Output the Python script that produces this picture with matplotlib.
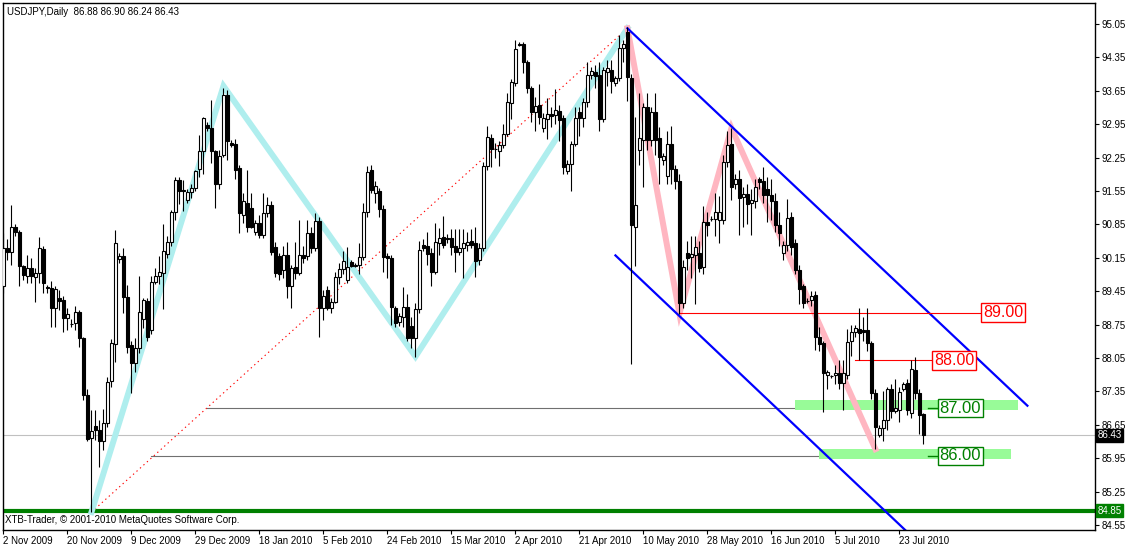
import numpy as np
import matplotlib
matplotlib.use("Agg")
import matplotlib.pyplot as plt
from matplotlib.transforms import blended_transform_factory

plt.rcParams['font.family'] = ['Liberation Sans', 'DejaVu Sans']

# USDJPY daily bars, 2 Nov 2009 .. 30 Jul 2010 (broker sends Sunday bars too)
opens = [89.55, 90.35, 90.28, 90.79, 90.69, 89.97, 89.76, 89.93, 89.74, 89.83,
         90.33, 89.53, 89.51, 89.09, 89.30, 89.27, 88.88, 88.76, 88.78, 89.01,
         88.46, 87.27, 86.37, 86.63, 86.55, 86.30, 86.68, 87.57, 88.34, 90.13,
         90.19, 89.32, 88.32, 87.95, 88.26, 88.86, 89.25, 88.64, 89.65, 89.76,
         89.83, 90.22, 90.49, 91.12, 91.78, 91.57, 91.36, 91.52, 91.61, 92.02,
         92.38, 92.94, 92.87, 92.38, 91.69, 92.31, 93.56, 92.55, 92.54, 92.03,
         91.05, 91.29, 91.19, 90.70, 90.87, 90.63, 91.08, 91.26, 90.38, 90.19,
         89.90, 90.21, 89.56, 89.95, 89.84, 90.21, 90.18, 90.67, 90.35, 90.93,
         89.09, 89.48, 89.09, 89.23, 89.75, 89.91, 89.69, 90.06, 89.98, 90.00,
         90.16, 91.12, 91.98, 91.50, 91.55, 91.17, 90.19, 90.14, 89.09, 88.81,
         88.90, 89.11, 88.73, 88.46, 89.07, 90.42, 90.40, 90.26, 89.86, 90.47,
         90.58, 90.56, 90.56, 90.40, 90.28, 90.35, 90.41, 90.50, 90.46, 90.10,
         90.35, 92.08, 92.67, 92.43, 92.38, 92.52, 92.75, 93.39, 93.81, 94.63,
         94.63, 94.26, 93.70, 93.21, 93.36, 92.87, 93.06, 93.16, 93.15, 93.23,
         93.08, 91.97, 92.11, 92.53, 93.21, 93.08, 93.42, 93.98, 94.05, 93.98,
         93.06, 94.05, 94.09, 93.81, 93.91, 94.54, 94.89, 93.91, 90.80, 92.40,
         92.62, 93.32, 92.62, 93.21, 92.67, 92.20, 91.86, 92.54, 92.01, 91.75,
         89.20, 90.24, 90.16, 90.21, 90.24, 89.95, 90.91, 90.97, 90.96, 90.95,
         90.94, 92.16, 92.53, 91.70, 91.80, 91.43, 91.48, 91.29, 91.33, 91.80,
         91.75, 91.59, 91.47, 91.34, 90.84, 90.25, 90.41, 91.00, 90.45, 89.90,
         89.55, 89.25, 89.27, 89.37, 88.50, 88.36, 87.69, 87.67, 87.69, 87.73,
         87.52, 87.69, 88.41, 88.60, 88.65, 88.64, 88.64, 88.36, 87.32, 86.44,
         86.58, 86.74, 87.39, 86.93, 86.96, 87.41, 87.52, 86.89, 87.80, 87.32,
         86.88]
highs = [90.67, 90.55, 91.26, 90.85, 90.73, 90.00, 90.21, 90.15, 89.93, 90.58,
         90.40, 89.57, 89.67, 89.55, 89.48, 89.34, 89.09, 88.87, 89.14, 89.05,
         88.50, 87.40, 86.96, 86.96, 86.75, 86.98, 87.65, 88.45, 90.73, 90.25,
         90.35, 89.58, 88.40, 88.47, 89.77, 89.31, 89.30, 89.77, 89.93, 90.18,
         90.86, 90.60, 91.15, 91.85, 91.85, 91.78, 91.60, 91.70, 92.00, 92.73,
         93.11, 93.00, 93.46, 92.40, 92.40, 93.70, 93.66, 92.62, 92.65, 92.10,
         91.50, 92.00, 91.50, 90.95, 91.04, 91.50, 91.43, 91.35, 90.49, 90.25,
         90.40, 90.49, 90.00, 90.49, 90.94, 90.40, 90.94, 90.80, 91.08, 91.00,
         89.48, 89.55, 89.30, 89.85, 90.05, 90.30, 90.38, 90.10, 90.05, 90.47,
         91.30, 92.07, 92.10, 91.75, 91.62, 91.26, 90.25, 90.20, 89.15, 89.00,
         89.54, 89.40, 88.90, 89.20, 90.50, 90.55, 90.70, 90.35, 90.87, 90.78,
         91.03, 90.65, 90.75, 90.75, 90.75, 90.75, 90.70, 90.75, 90.80, 90.45,
         92.15, 92.91, 92.75, 92.55, 92.60, 92.95, 93.60, 93.90, 94.72, 94.68,
         94.68, 94.30, 93.75, 93.53, 93.80, 93.19, 93.50, 93.30, 93.68, 93.35,
         93.15, 92.20, 92.60, 93.30, 93.30, 93.50, 94.26, 94.15, 94.20, 94.26,
         94.15, 94.30, 94.30, 93.95, 94.82, 94.72, 94.99, 94.00, 93.10, 93.60,
         93.40, 93.60, 93.30, 93.60, 92.90, 92.35, 92.80, 92.92, 92.10, 91.90,
         90.10, 90.50, 90.60, 90.60, 90.50, 91.23, 91.10, 91.02, 91.50, 91.45,
         92.30, 92.80, 92.87, 91.90, 92.00, 91.64, 91.70, 91.60, 91.80, 91.85,
         92.06, 91.85, 91.80, 91.50, 91.10, 90.50, 91.39, 91.10, 90.55, 90.00,
         89.60, 89.30, 89.45, 89.45, 88.70, 88.40, 87.80, 87.70, 87.90, 88.00,
         88.00, 88.65, 88.75, 88.75, 89.09, 88.90, 89.09, 88.40, 87.40, 86.65,
         87.35, 87.45, 87.50, 87.60, 87.45, 87.55, 87.60, 88.00, 88.07, 87.40,
         86.90]
lows = [89.41, 90.10, 90.00, 90.60, 89.56, 89.69, 89.62, 89.62, 89.23, 89.62,
        89.41, 89.42, 88.71, 88.70, 89.06, 88.59, 88.64, 88.71, 88.64, 88.29,
        87.16, 86.30, 84.82, 86.33, 85.77, 86.12, 86.60, 87.45, 87.97, 90.05,
        88.99, 88.15, 87.32, 87.76, 88.15, 88.68, 88.40, 88.55, 89.60, 89.60,
        89.07, 90.15, 90.40, 90.95, 91.28, 91.13, 91.30, 91.40, 91.55, 91.85,
        91.90, 92.80, 92.13, 91.20, 91.60, 92.27, 92.20, 92.48, 91.80, 90.67,
        90.87, 90.70, 90.77, 90.62, 90.56, 90.56, 91.00, 90.20, 89.75, 89.69,
        89.73, 89.30, 89.09, 89.70, 89.79, 90.05, 90.10, 90.25, 90.30, 88.50,
        88.85, 89.05, 89.00, 89.20, 89.60, 89.80, 89.62, 89.95, 89.95, 89.80,
        90.10, 91.00, 91.50, 91.30, 91.00, 89.86, 89.72, 88.74, 88.71, 88.72,
        88.71, 88.40, 88.26, 88.08, 89.00, 90.30, 90.00, 89.56, 89.80, 90.20,
        90.35, 90.45, 90.20, 89.86, 90.20, 89.72, 90.30, 90.35, 89.75, 90.00,
        90.30, 92.00, 92.06, 92.25, 92.08, 92.45, 92.70, 93.05, 93.75, 94.58,
        94.03, 93.60, 93.00, 92.80, 92.95, 92.78, 92.65, 92.90, 92.95, 92.60,
        91.90, 91.90, 91.54, 92.50, 92.70, 92.90, 93.30, 93.90, 93.70, 92.80,
        93.00, 93.75, 93.60, 93.75, 93.85, 94.26, 93.44, 87.92, 89.97, 92.10,
        91.63, 92.40, 92.50, 92.30, 91.70, 92.10, 91.70, 91.70, 91.60, 88.98,
        89.10, 89.90, 89.72, 89.19, 89.85, 89.82, 90.60, 90.93, 90.60, 90.45,
        90.85, 92.05, 91.36, 91.60, 90.62, 90.80, 90.85, 90.62, 91.20, 91.60,
        91.30, 90.90, 90.95, 90.70, 90.40, 90.10, 90.30, 90.20, 89.80, 89.18,
        89.10, 89.20, 89.15, 88.22, 88.20, 86.92, 87.40, 87.64, 87.50, 87.40,
        86.95, 87.60, 88.10, 88.50, 88.00, 88.40, 88.20, 87.20, 86.14, 86.40,
        86.30, 86.55, 86.80, 86.90, 86.70, 87.35, 86.85, 86.80, 87.20, 86.45,
        86.24]
closes = [90.35, 90.28, 90.80, 90.70, 89.97, 89.79, 89.93, 89.76, 89.83, 90.35,
          89.62, 89.52, 89.09, 89.50, 89.25, 88.88, 88.97, 88.77, 89.02, 88.46,
          87.27, 86.35, 86.51, 86.55, 86.30, 86.68, 87.55, 88.37, 90.46, 90.19,
          89.32, 88.29, 87.95, 88.26, 89.02, 89.27, 88.50, 89.65, 89.76, 89.85,
          90.29, 90.49, 91.12, 91.78, 91.54, 91.54, 91.52, 91.61, 91.96, 92.38,
          93.08, 92.88, 92.38, 91.69, 92.29, 93.56, 92.59, 92.52, 91.99, 91.08,
          91.33, 90.80, 90.80, 90.87, 90.63, 91.08, 91.26, 90.28, 89.83, 89.81,
          90.21, 89.56, 89.94, 89.84, 90.21, 90.15, 90.67, 90.35, 90.93, 89.09,
          89.34, 89.09, 89.23, 89.75, 89.91, 90.09, 89.95, 89.97, 90.00, 90.16,
          91.12, 91.95, 91.57, 91.65, 91.17, 90.16, 90.14, 89.11, 88.79, 88.93,
          89.11, 88.46, 88.46, 89.07, 90.32, 90.36, 90.23, 89.86, 90.48, 90.56,
          90.41, 90.55, 90.37, 90.28, 90.35, 90.45, 90.49, 90.42, 90.09, 90.35,
          92.08, 92.69, 92.44, 92.42, 92.52, 92.75, 93.42, 93.84, 94.52, 94.62,
          94.26, 93.70, 93.21, 93.33, 93.11, 93.07, 93.17, 93.13, 93.25, 93.03,
          92.06, 92.11, 92.53, 93.08, 93.08, 93.42, 93.98, 94.07, 93.95, 93.06,
          94.09, 94.12, 93.85, 93.91, 94.54, 94.63, 93.93, 90.84, 91.26, 92.67,
          93.32, 92.62, 93.21, 92.62, 92.27, 92.29, 92.54, 92.01, 91.75, 89.20,
          89.95, 90.14, 90.23, 90.37, 89.93, 90.91, 90.84, 90.96, 91.12, 91.12,
          92.16, 92.52, 91.64, 91.80, 91.41, 91.48, 91.27, 91.36, 91.63, 91.73,
          91.47, 91.47, 91.34, 90.84, 90.68, 90.41, 90.98, 90.38, 89.90, 89.50,
          89.20, 89.24, 89.34, 88.50, 88.34, 87.73, 87.76, 87.67, 87.74, 87.53,
          87.73, 88.39, 88.60, 88.67, 88.58, 88.60, 88.36, 87.32, 86.61, 86.58,
          86.74, 87.39, 86.93, 87.00, 87.33, 87.50, 86.96, 87.81, 87.32, 86.86,
          86.43]

date_labels = ['2 Nov 2009', '20 Nov 2009', '9 Dec 2009', '29 Dec 2009',
               '18 Jan 2010', '5 Feb 2010', '24 Feb 2010', '15 Mar 2010',
               '2 Apr 2010', '21 Apr 2010', '10 May 2010', '28 May 2010',
               '16 Jun 2010', '5 Jul 2010', '23 Jul 2010']
bars_per_label = 16
price_ticks = [95.05, 94.35, 93.65, 92.95, 92.25, 91.55, 90.85, 90.15,
               89.45, 88.75, 88.05, 87.35, 86.65, 85.95, 85.25, 84.55]

last_price = 86.43
support = 84.85

# drawn objects, anchored on (bar, price)
cyan_bars = [22, 55, 103, 156]
cyan_prices = [84.82, 93.75, 88.08, 94.96]
pink_bars = [156, 169, 182, 218]
pink_prices = [94.96, 88.98, 92.87, 86.14]
dotted_bars = [22, 156]
dotted_prices = [84.82, 94.96]
chan_top_bars = [156, 256]
chan_top_prices = [94.96, 87.05]
chan_bot_bars = [153, 226]
chan_bot_prices = [90.20, 84.40]
gray_levels = [87.00, 86.00]
gray_starts = [51, 37]
gray_end = 219.6
red_levels = [89.00, 88.00]
red_starts = [169, 213]
red_ends = [244.6, 232.3]
zone_levels = [87.00, 86.00]
zone_lo = [86.95, 85.93]
zone_hi = [87.16, 86.14]
zone_x0 = [197.9, 203.9]
zone_x1 = [253.6, 251.9]
green_label_bar = 233.7

o = np.array(opens)
h = np.array(highs)
l = np.array(lows)
c = np.array(closes)
x = np.arange(len(o))

fig = plt.figure(figsize=(11.32, 5.46), dpi=100)
ax = fig.add_axes([3 / 1132, 16 / 546, 1092 / 1132, 527 / 546])
ax.set_xlim(-0.125, 272.9)
ax.set_ylim(84.445, 95.49)

# background objects
ax.axhline(last_price, color='#c0c0c0', lw=0.8, zorder=1)
ax.axhline(support, color='#008000', lw=3, zorder=1)
for lev, x0 in zip(gray_levels, gray_starts):
    ax.plot([x0, gray_end], [lev, lev], color='#707070', lw=0.8, zorder=1)
for lo, hi, x0, x1 in zip(zone_lo, zone_hi, zone_x0, zone_x1):
    ax.fill_between([x0, x1], lo, hi, color='#98fb98', lw=0, zorder=1)
ax.plot(dotted_bars, dotted_prices, color='red', lw=0.8,
        linestyle=(0, (1.2, 3)), zorder=1)
ax.plot(cyan_bars, cyan_prices, color='#afeeee', lw=4.3,
        solid_joinstyle='miter', zorder=1)
ax.plot(pink_bars, pink_prices, color='#ffb6c1', lw=4.3,
        solid_joinstyle='miter', zorder=1)
ax.plot(chan_top_bars, chan_top_prices, color='#0000ff', lw=1.6, zorder=1)
ax.plot(chan_bot_bars, chan_bot_prices, color='#0000ff', lw=1.6, zorder=1)
for lev, x0, x1 in zip(red_levels, red_starts, red_ends):
    ax.plot([x0, x1], [lev, lev], color='red', lw=0.8, zorder=1)

# candles
up = c >= o
ax.vlines(x, l, h, color='black', lw=0.8, zorder=3)
ax.bar(x[up], (c - o)[up], bottom=o[up], width=0.62, color='white',
       edgecolor='black', linewidth=0.8, zorder=4)
ax.bar(x[~up], (o - c)[~up], bottom=c[~up], width=0.62, color='black',
       edgecolor='black', linewidth=0.8, zorder=4)

# level labels
for lev, x1 in zip(red_levels, red_ends):
    ax.text(x1 + 0.3, lev, f'{lev:.2f}', color='red', fontsize=11.5,
            ha='left', va='center', zorder=6,
            bbox=dict(boxstyle='square,pad=0.12', fc='white', ec='red', lw=1))
for lev in zone_levels:
    ax.plot([green_label_bar - 2.5, green_label_bar], [lev, lev],
            color='#008000', lw=1, zorder=5)
    ax.text(green_label_bar + 0.3, lev, f'{lev:.2f}', color='#008000',
            fontsize=12, ha='left', va='center', zorder=6,
            bbox=dict(boxstyle='square,pad=0.1', fc='white', ec='#008000', lw=1))

# axes look
for sp in ax.spines.values():
    sp.set_color('black')
    sp.set_linewidth(1)
ax.yaxis.tick_right()
ax.set_yticks(price_ticks)
ax.set_yticklabels([f'{p:.2f}' for p in price_ticks])
ax.tick_params(axis='y', length=3, width=0.8, labelsize=7, pad=2)
ax.set_xticks(np.arange(len(date_labels)) * bars_per_label)
ax.set_xticklabels(date_labels, ha='left')
ax.tick_params(axis='x', length=3, width=0.8, labelsize=7, pad=1)

yt = blended_transform_factory(ax.transAxes, ax.transData)
ax.text(1.0025, last_price, f'{last_price:.2f}', transform=yt, color='white',
        fontsize=7, ha='left', va='center', zorder=7, clip_on=False,
        bbox=dict(boxstyle='square,pad=0.15', fc='black', ec='black'))
ax.text(1.0025, support, f'{support:.2f}', transform=yt, color='white',
        fontsize=7, ha='left', va='center', zorder=7, clip_on=False,
        bbox=dict(boxstyle='square,pad=0.15', fc='#008000', ec='#008000'))

ax.text(0.004, 0.983, 'USDJPY,Daily  86.88 86.90 86.24 86.43',
        transform=ax.transAxes, fontsize=7, ha='left', va='center')
ax.text(0.002, 0.019, 'XTB-Trader, \u00a9 2001-2010 MetaQuotes Software Corp.',
        transform=ax.transAxes, fontsize=7, ha='left', va='center', zorder=7)

fig.savefig('out.png', dpi=100, facecolor='white')
